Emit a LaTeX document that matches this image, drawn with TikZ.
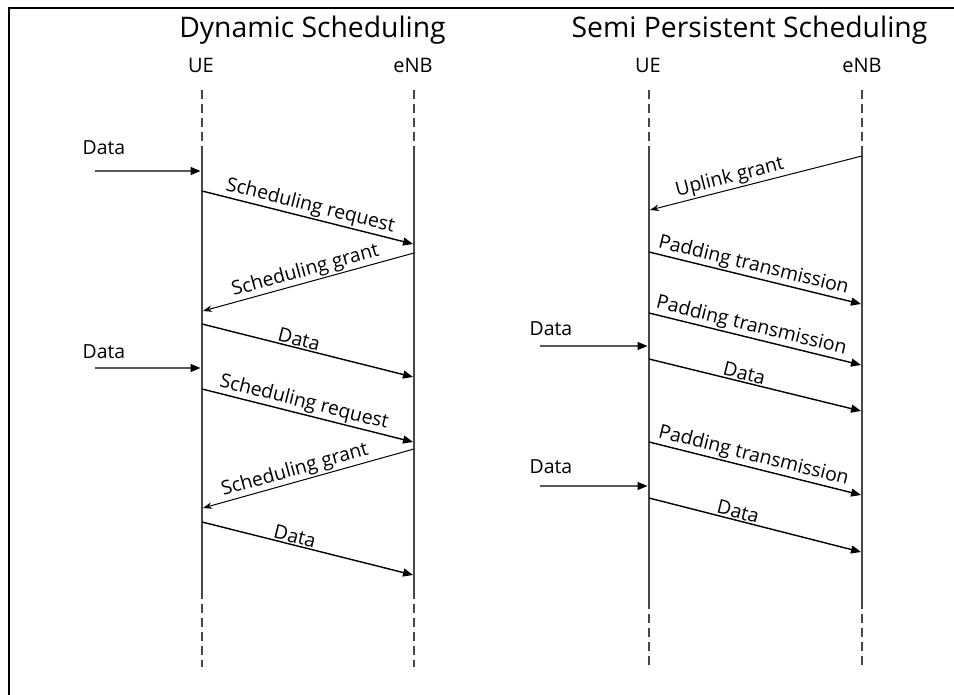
\documentclass[tikz,border=0pt]{standalone}
\usepackage{fontspec}
\setmainfont{Open Sans}
\usetikzlibrary{arrows.meta}
\begin{document}
\begin{tikzpicture}[x=1pt,y=-1pt,
  frameline/.style={line width=2pt, draw=black},
  life/.style={line width=1.4pt, draw=black!72},
  lifedash/.style={life, dash pattern=on 9pt off 5pt},
  msg/.style={line width=1.4pt, draw=black, -{Triangle[length=10pt,width=8pt]}},
  thinmsg/.style={line width=1pt, draw=black, -{Stealth[length=9pt,width=6.5pt]}},
  inmsg/.style={line width=1.4pt, draw=black!65, shorten >=1.5pt, -{Triangle[length=10pt,width=8pt,fill=black,color=black]}},
  lbl/.style={font=\fontsize{19.4}{22}\selectfont, sloped, above, inner sep=1.2pt},
  side/.style={font=\fontsize{19.4}{22}\selectfont, anchor=base, inner sep=0pt},
  actor/.style={font=\fontsize{20}{23}\selectfont, anchor=base, inner sep=0pt},
  ttl/.style={font=\fontsize{28.3}{32}\selectfont, anchor=base, inner sep=0pt}]
\useasboundingbox (0,0) rectangle (954,695);
% frame
\draw[frameline] (9,705) -- (9,8) -- (965,8);
% titles
\node[ttl] (t1) at (312.5,38) {Dynamic Scheduling};
\node[ttl] (t2) at (749.5,38) {Semi Persistent Scheduling};
% actors
\node[actor] (ue1) at (201,73) {UE};
\node[actor] (enb1) at (413,73) {eNB};
\node[actor] (ue2) at (648,73) {UE};
\node[actor] (enb2) at (862,73) {eNB};
% lifelines
\coordinate (L1a) at (202,90); \coordinate (L1b) at (202,153); \coordinate (L1c) at (202,590); \coordinate (L1d) at (202,667);
\coordinate (L2a) at (414,90); \coordinate (L2b) at (414,153); \coordinate (L2c) at (414,590); \coordinate (L2d) at (414,667);
\coordinate (L3a) at (649,90); \coordinate (L3b) at (649,153); \coordinate (L3c) at (649,600); \coordinate (L3d) at (649,667);
\coordinate (L4a) at (862,90); \coordinate (L4b) at (862,153); \coordinate (L4c) at (862,600); \coordinate (L4d) at (862,667);
\foreach \k in {1,2,3,4}{
  \draw[lifedash] (L\k a) -- (L\k b);
  \draw[life] (L\k b) -- (L\k c);
  \draw[lifedash] (L\k c) -- (L\k d);
}
% ---------- Dynamic scheduling ----------
\coordinate (in1s) at (95,171); \coordinate (in1e) at (202,171);
\node[side] (d1) at (104,155) {Data};
\draw[inmsg] (in1s) -- (in1e);
\coordinate (sr1s) at (202,191); \coordinate (sr1e) at (413,244);
\draw[msg] (sr1s) -- node[lbl, pos=0.5] {Scheduling request} (sr1e);
\coordinate (sg1s) at (414,253); \coordinate (sg1e) at (203,311);
\draw[thinmsg] (sg1s) -- node[lbl, pos=0.5] {Scheduling grant} (sg1e);
\coordinate (dt1s) at (202,324); \coordinate (dt1e) at (413,377);
\draw[msg] (dt1s) -- node[lbl, pos=0.45] {Data} (dt1e);
\coordinate (in2s) at (95,368); \coordinate (in2e) at (202,368);
\node[side] (d2) at (104,359) {Data};
\draw[inmsg] (in2s) -- (in2e);
\coordinate (sr2s) at (202,389); \coordinate (sr2e) at (413,442);
\draw[msg] (sr2s) -- node[lbl, pos=0.47] {Scheduling request} (sr2e);
\coordinate (sg2s) at (414,449); \coordinate (sg2e) at (203,508);
\draw[thinmsg] (sg2s) -- node[lbl, pos=0.55] {Scheduling grant} (sg2e);
\coordinate (dt2s) at (202,522); \coordinate (dt2e) at (413,575);
\draw[msg] (dt2s) -- node[lbl, pos=0.43] {Data} (dt2e);
% ---------- Semi persistent scheduling ----------
\coordinate (ugs) at (862,156); \coordinate (uge) at (650,210);
\draw[thinmsg] (ugs) -- node[lbl, pos=0.61] {Uplink grant} (uge);
\coordinate (pt1s) at (649,252); \coordinate (pt1e) at (861,304);
\draw[msg] (pt1s) -- node[lbl, pos=0.48] {Padding transmission} (pt1e);
\coordinate (pt2s) at (649,313); \coordinate (pt2e) at (861,365);
\draw[msg] (pt2s) -- node[lbl, pos=0.47] {Padding transmission} (pt2e);
\coordinate (in3s) at (540,346); \coordinate (in3e) at (649,346);
\node[side] (d3) at (551,335) {Data};
\draw[inmsg] (in3s) -- (in3e);
\coordinate (dt3s) at (649,359); \coordinate (dt3e) at (861,411);
\draw[msg] (dt3s) -- node[lbl, pos=0.44] {Data} (dt3e);
\coordinate (pt3s) at (649,442); \coordinate (pt3e) at (861,495);
\draw[msg] (pt3s) -- node[lbl, pos=0.48] {Padding transmission} (pt3e);
\coordinate (in4s) at (540,486); \coordinate (in4e) at (649,486);
\node[side] (d4) at (551,473) {Data};
\draw[inmsg] (in4s) -- (in4e);
\coordinate (dt4s) at (649,498); \coordinate (dt4e) at (861,552);
\draw[msg] (dt4s) -- node[lbl, pos=0.41] {Data} (dt4e);
\end{tikzpicture}
\end{document}
